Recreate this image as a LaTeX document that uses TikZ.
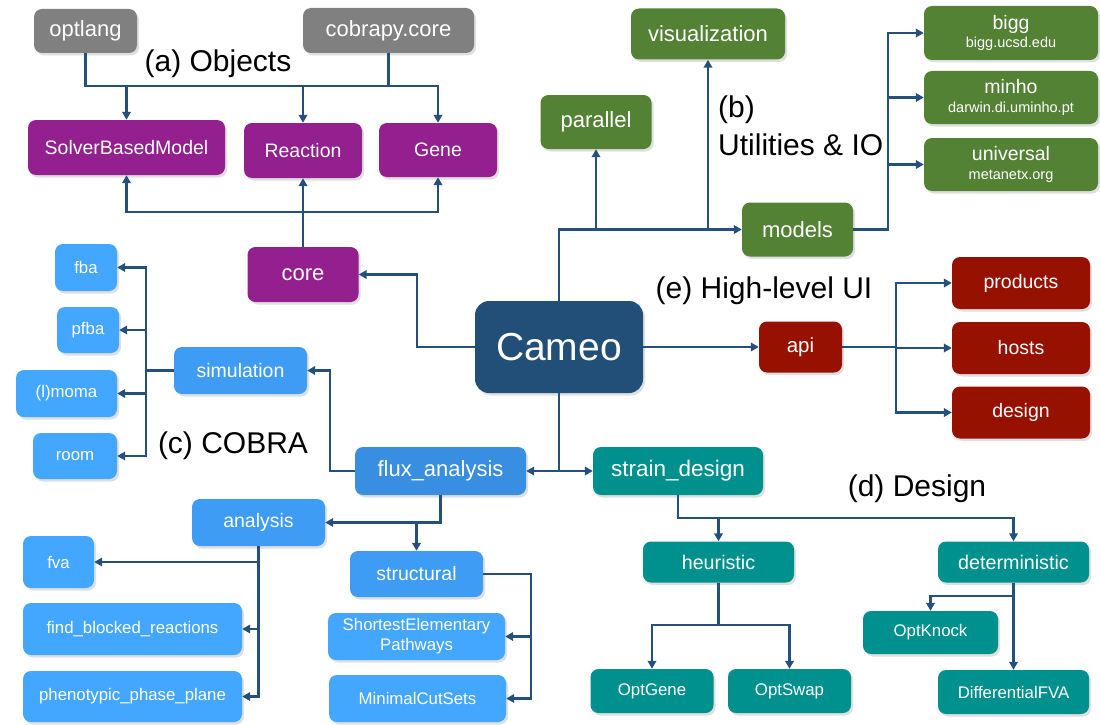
\documentclass[tikz,border=0pt]{standalone}
\usepackage{fontspec}
\setmainfont{Liberation Sans}
\usepackage{tikz}
\usepackage{xcolor}
\usetikzlibrary{arrows.meta}
\usetikzlibrary{shadows}

\definecolor{wirecol}{RGB}{35,80,125}
\definecolor{greycol}{RGB}{128,128,128}
\definecolor{objcol}{RGB}{148,31,143}
\definecolor{utilcol}{RGB}{84,130,53}
\definecolor{uicol}{RGB}{150,17,0}
\definecolor{cameocol}{RGB}{33,79,120}
\definecolor{leafcol}{RGB}{67,166,255}
\definecolor{midcol}{RGB}{62,156,245}
\definecolor{fluxcol}{RGB}{56,142,225}
\definecolor{designcol}{RGB}{0,145,143}

\newcommand{\fsize}[1]{\fontsize{#1}{#1}\selectfont}

\begin{document}
\begin{tikzpicture}[x=1pt,y=-1pt]
	
	\useasboundingbox (0,0) rectangle (1100,725);
	
	\tikzstyle{box}=[rectangle, rounded corners=8pt, text=white, inner sep=0pt, align=center,
	drop shadow={shadow xshift=2pt, shadow yshift=-2.5pt, opacity=0.25}]
	\tikzstyle{greybox}=[box, fill=greycol, font=\fsize{22}]
	\tikzstyle{objbox}=[box, fill=objcol, font=\fsize{19.5}]
	\tikzstyle{utilbox}=[box, fill=utilcol, font=\fsize{19.5}]
	\tikzstyle{uibox}=[box, fill=uicol, font=\fsize{19.5}]
	\tikzstyle{leafbox}=[box, fill=leafcol, font=\fsize{16.8}]
	\tikzstyle{midbox}=[box, fill=midcol, font=\fsize{19.5}]
	\tikzstyle{designbox}=[box, fill=designcol, font=\fsize{19.7}]
	\tikzstyle{caption}=[inner sep=0pt, font=\fsize{30}]
	\tikzstyle{wire}=[draw=wirecol, line width=2.7pt]
	\tikzstyle{flow}=[wire, -{Triangle[length=8pt,width=8.5pt]}]
	
	% (a) Objects
	\node[greybox, minimum width=103, minimum height=44] (optlang) at (85.5,31) {optlang};
	\node[greybox, minimum width=171, minimum height=45] (cobrapy) at (388.5,30.5) {cobrapy.core};
	\node[objbox, minimum width=197, minimum height=55] (sbm) at (126.5,147.5) {SolverBasedModel};
	\node[objbox, minimum width=118, minimum height=55] (reaction) at (303,150.5) {Reaction};
	\node[objbox, minimum width=118, minimum height=54] (gene) at (438,150) {Gene};
	\node[objbox, font=\fsize{22}, minimum width=111, minimum height=55] (core) at (303,274.5) {core};
	\node[caption] (objects) at (218,64) {(a) Objects};
	
	% (b) Utilities & IO
	\node[utilbox, font=\fsize{22}, minimum width=154, minimum height=51] (visualization) at (708,34) {visualization};
	\node[utilbox, font=\fsize{22}, minimum width=111, minimum height=54] (parallel) at (596,122) {parallel};
	\node[utilbox, font=\fsize{22}, minimum width=111, minimum height=54] (models) at (797.5,229.5) {models};
	\node[utilbox, minimum width=174, minimum height=54] (bigg) at (1011,33) {bigg\\[-1pt]{\fsize{14.5}bigg.ucsd.edu}};
	\node[utilbox, minimum width=174, minimum height=53] (minho) at (1011,97.5) {minho\\[-1pt]{\fsize{14.5}darwin.di.uminho.pt}};
	\node[utilbox, minimum width=174, minimum height=53] (universal) at (1011,164.5) {universal\\[-1pt]{\fsize{14.5}metanetx.org}};
	\node[caption, align=left, anchor=west, font=\fontsize{30}{38}\selectfont] (utilities) at (718,126) {(b)\\Utilities \& IO};
	
	% centre
	\node[box, fill=cameocol, rounded corners=14pt, font=\fsize{39}, minimum width=168, minimum height=92] (cameo) at (559,347) {Cameo};
	
	% (e) High-level UI
	\node[uibox, font=\fsize{20.5}, minimum width=83, minimum height=51] (api) at (800.5,347) {api};
	\node[uibox, minimum width=138, minimum height=52] (products) at (1021,283) {products};
	\node[uibox, minimum width=138, minimum height=52] (hosts) at (1021,348) {hosts};
	\node[uibox, minimum width=138, minimum height=52] (design) at (1021,412.5) {design};
	\node[caption] (highlevel) at (764,291) {(e) High-level UI};
	
	% (c) COBRA
	\node[leafbox, minimum width=62, minimum height=47] (fba) at (86,267.5) {fba};
	\node[leafbox, minimum width=62, minimum height=46] (pfba) at (88,330) {pfba};
	\node[leafbox, minimum width=101, minimum height=47] (moma) at (66.5,393.5) {(l)moma};
	\node[leafbox, minimum width=84, minimum height=46] (room) at (75,456) {room};
	\node[midbox, minimum width=133, minimum height=47] (simulation) at (240.5,370.5) {simulation};
	\node[box, fill=fluxcol, font=\fsize{22}, minimum width=171, minimum height=48] (flux) at (440.5,471) {flux\_analysis};
	\node[midbox, minimum width=133, minimum height=47] (analysis) at (258.5,522.5) {analysis};
	\node[leafbox, minimum width=71, minimum height=52] (fva) at (58.5,562) {fva};
	\node[leafbox, minimum width=219, minimum height=52] (blocked) at (132.5,629) {find\_blocked\_reactions};
	\node[leafbox, minimum width=219, minimum height=51] (ppp) at (132.5,696.5) {phenotypic\_phase\_plane};
	\node[midbox, minimum width=133, minimum height=46] (structural) at (416.5,574) {structural};
	\node[leafbox, font=\fontsize{16.8}{20}\selectfont, minimum width=177, minimum height=47] (sep) at (416.5,636.5) {ShortestElementary\\Pathways};
	\node[leafbox, minimum width=177, minimum height=47] (mcs) at (417.5,698.5) {MinimalCutSets};
	\node[caption] (cobra) at (233,446) {(c) COBRA};
	
	% (d) Design
	\node[designbox, font=\fsize{22.5}, minimum width=170, minimum height=48] (straindesign) at (678,471) {strain\_design};
	\node[designbox, minimum width=151, minimum height=41] (heuristic) at (718.5,562) {heuristic};
	\node[designbox, minimum width=151, minimum height=41] (deterministic) at (1013.5,562) {deterministic};
	\node[designbox, font=\fsize{16.8}, minimum width=123, minimum height=44] (optgene) at (652,691) {OptGene};
	\node[designbox, font=\fsize{16.8}, minimum width=123, minimum height=44] (optswap) at (789.5,691) {OptSwap};
	\node[designbox, font=\fsize{16.8}, minimum width=135, minimum height=43] (optknock) at (930.5,632.5) {OptKnock};
	\node[designbox, font=\fsize{16.8}, minimum width=151, minimum height=44] (difffva) at (1013.5,692) {DifferentialFVA};
	\node[caption] (designlbl) at (917,489) {(d) Design};
	
	\coordinate (abus) at (0,86);
	\coordinate (cbus) at (0,212);
	\coordinate (mbus) at (888,0);
	\coordinate (ebus) at (896,0);
	\coordinate (sbus) at (146,0);
	\coordinate (fbend) at (330,0);
	\coordinate (tbus) at (531,0);
	\coordinate (dbus) at (0,518);
	\coordinate (hbus) at (0,625);
	\coordinate (kbus) at (0,596);
	\coordinate (cbend) at (417,0);
	
	% objects
	\draw[flow] (optlang.south) |- (gene.north |- abus) -- (gene.north);
	\draw[wire] (cobrapy.south) -- (cobrapy.south |- abus);
	\draw[flow] (sbm.north |- abus) -- (sbm.north);
	\draw[flow] (reaction.north |- abus) -- (reaction.north);
	\draw[flow] (core.north) -- (reaction.south);
	\draw[flow] (core.north |- cbus) -| (sbm.south);
	\draw[flow] (core.north |- cbus) -| (gene.south);
	\draw[flow] (cameo.west) -| (cbend |- core.east) -- (core.east);
	
	% utilities
	\draw[flow] (cameo.north) |- (models.west);
	\draw[flow] (parallel.south |- models.west) -- (parallel.south);
	\draw[flow] (visualization.south |- models.west) -- (visualization.south);
	\draw[flow] (models.east) -| (mbus |- bigg.west) -- (bigg.west);
	\draw[flow] (mbus |- minho.west) -- (minho.west);
	\draw[flow] (mbus |- universal.west) -- (universal.west);
	
	% api
	\draw[flow] (cameo.east) -- (api.west);
	\draw[flow] (api.east) -| (ebus |- products.west) -- (products.west);
	\draw[flow] (ebus |- api.east) |- (design.west);
	\draw[flow] (ebus |- hosts.west) -- (hosts.west);
	
	% cobra
	\draw[flow] (cameo.south) |- (flux.east);
	\draw[flow] (flux.west) -| (fbend |- simulation.east) -- (simulation.east);
	\draw[flow] (simulation.west) -| (sbus |- fba.east) -- (fba.east);
	\draw[flow] (simulation.west) -| (sbus |- room.east) -- (room.east);
	\draw[flow] (sbus |- pfba.east) -- (pfba.east);
	\draw[flow] (sbus |- moma.east) -- (moma.east);
	\draw[flow] (flux.south) |- (analysis.east);
	\draw[flow] (structural.north |- analysis.east) -- (structural.north);
	\draw[flow] (analysis.south) |- (fva.east);
	\draw[flow] (analysis.south) |- (ppp.east);
	\draw[flow] (analysis.south |- blocked.east) -- (blocked.east);
	\draw[flow] (structural.east) -| (tbus |- mcs.east) -- (mcs.east);
	\draw[flow] (tbus |- sep.east) -- (sep.east);
	
	% design
	\draw[flow] (cameo.south) |- (straindesign.west);
	\draw[flow] (straindesign.south) |- (deterministic.north |- dbus) -- (deterministic.north);
	\draw[flow] (heuristic.north |- dbus) -- (heuristic.north);
	\draw[flow] (heuristic.south) |- (optgene.north |- hbus) -- (optgene.north);
	\draw[flow] (heuristic.south) |- (optswap.north |- hbus) -- (optswap.north);
	\draw[flow] (deterministic.south) -- (difffva.north);
	\draw[flow] (deterministic.south |- kbus) -| (optknock.north);
	
\end{tikzpicture}
\end{document}
